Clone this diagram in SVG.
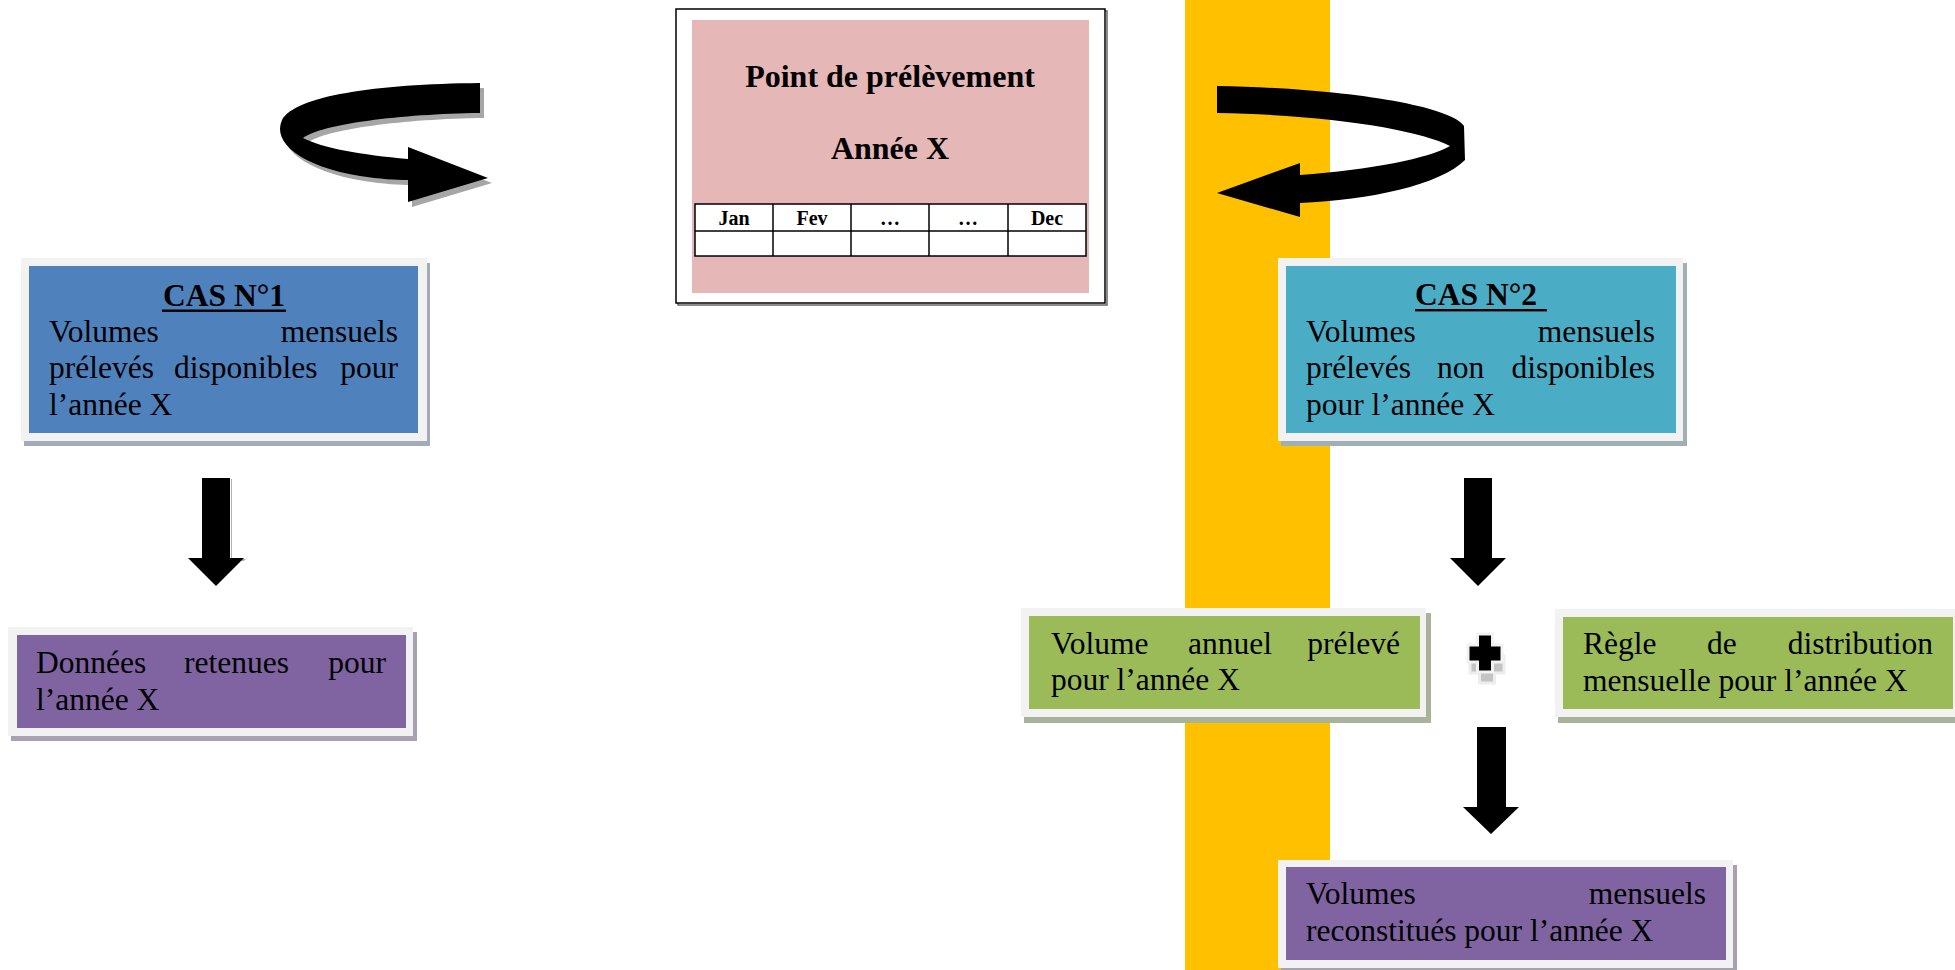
<svg xmlns="http://www.w3.org/2000/svg" width="1955" height="970" viewBox="0 0 1955 970">
<style>
.t{font-family:"Liberation Serif","Times New Roman",serif;font-size:31.5px;fill:#000}
.b{font-weight:bold}
.e{text-anchor:end}
.m{text-anchor:middle}
.h{font-size:32px}
.s{font-size:20px}
.frame{fill:#F2F2F2}
.arr{fill:#000}
.cell{fill:#fff;stroke:#000;stroke-width:1.5}
</style>
<defs>
  <path id="curveL" d="M480,83 C375,84 295,96 282,120 C272,142 300,166 360,176 C380,179 395,180 408,180 L408,202 L488,178 L408,147 L408,159 C362,155 322,148 303,138 C322,124 400,114 480,113 Z"/>
  <path id="plusShape" d="M1477.5,634 h15 v11 h9.5 v17 h-9.5 v10 h-15 v-10 h-9.5 v-17 h9.5 z"/>
</defs>
<rect width="1955" height="970" fill="#fff"/>
<rect id="band" x="1185" y="0" width="145" height="970" fill="#FFC000"/>

<g id="point">
  <rect x="678" y="11" width="429" height="294" fill="none" stroke="#666" stroke-width="1.5"/>
  <rect x="676" y="9" width="429" height="294" fill="#fff" stroke="#000" stroke-width="1.5"/>
  <rect x="692" y="20" width="397" height="273" fill="#E5B8B7"/>
  <text class="t b m h" x="890" y="87">Point de prélèvement</text>
  <text class="t b m h" x="890" y="159">Année X</text>
  <rect class="cell" x="695" y="204" width="391" height="52"/>
  <line x1="695" y1="231" x2="1086" y2="231" stroke="#000" stroke-width="1.5"/>
  <line x1="773" y1="204" x2="773" y2="256" stroke="#000" stroke-width="1.5"/>
  <line x1="851" y1="204" x2="851" y2="256" stroke="#000" stroke-width="1.5"/>
  <line x1="929" y1="204" x2="929" y2="256" stroke="#000" stroke-width="1.5"/>
  <line x1="1008" y1="204" x2="1008" y2="256" stroke="#000" stroke-width="1.5"/>
  <text class="t b m s" x="734" y="225">Jan</text>
  <text class="t b m s" x="812" y="225">Fev</text>
  <text class="t b m s" x="890" y="225">…</text>
  <text class="t b m s" x="968" y="225">…</text>
  <text class="t b m s" x="1047" y="225">Dec</text>
</g>

<g id="cas1">
  <rect x="24" y="263" width="406" height="183" fill="#A3ABB8"/>
  <rect class="frame" x="21" y="258" width="406" height="183"/>
  <rect x="29" y="266" width="389" height="167" fill="#4F81BD"/>
  <text class="t b m" x="224" y="306">CAS N°1</text>
  <rect x="162" y="309.5" width="124" height="2.4" fill="#000"/>
  <text class="t" x="49" y="342">Volumes</text>
  <text class="t e" x="398" y="342">mensuels</text>
  <text class="t" x="49" y="378">prélevés</text>
  <text class="t" x="174" y="378">disponibles</text>
  <text class="t e" x="398" y="378">pour</text>
  <text class="t" x="49" y="415">l’année X</text>
</g>

<g id="cas2">
  <rect x="1281" y="263" width="406" height="183" fill="#9FB0B4"/>
  <rect class="frame" x="1278" y="258" width="405" height="183"/>
  <rect x="1286" y="266" width="390" height="167" fill="#4BACC6"/>
  <text class="t b" x="1415" y="305">CAS N°2</text>
  <rect x="1415" y="309" width="132" height="2.4" fill="#000"/>
  <text class="t" x="1306" y="342">Volumes</text>
  <text class="t e" x="1655" y="342">mensuels</text>
  <text class="t" x="1306" y="378">prélevés</text>
  <text class="t" x="1437" y="378">non</text>
  <text class="t e" x="1655" y="378">disponibles</text>
  <text class="t" x="1306" y="415">pour l’année X</text>
</g>

<g id="donnees">
  <rect x="11" y="632" width="406" height="109" fill="#A8A2B0"/>
  <rect class="frame" x="8" y="627" width="405" height="109"/>
  <rect x="17" y="635" width="389" height="93" fill="#8064A2"/>
  <text class="t" x="36" y="673">Données</text>
  <text class="t" x="184" y="673">retenues</text>
  <text class="t e" x="386" y="673">pour</text>
  <text class="t" x="36" y="710">l’année X</text>
</g>

<g id="volume-annuel">
  <rect x="1024" y="613" width="407" height="110" fill="#A9B39A"/>
  <rect class="frame" x="1021" y="608" width="405" height="109"/>
  <rect x="1029" y="616" width="391" height="93" fill="#9BBB59"/>
  <text class="t" x="1051" y="654">Volume</text>
  <text class="t" x="1188" y="654">annuel</text>
  <text class="t e" x="1400" y="654">prélevé</text>
  <text class="t" x="1051" y="690">pour l’année X</text>
</g>

<g id="regle">
  <rect x="1558" y="614" width="407" height="109" fill="#A9B39A"/>
  <rect class="frame" x="1555" y="609" width="407" height="108"/>
  <rect x="1563" y="617" width="390" height="92" fill="#9BBB59"/>
  <text class="t" x="1583" y="654">Règle</text>
  <text class="t" x="1707" y="654">de</text>
  <text class="t e" x="1933" y="654">distribution</text>
  <text class="t" x="1583" y="691">mensuelle pour l’année X</text>
</g>

<g id="plus">
  <use href="#plusShape" transform="translate(2,11)" fill="#C4C4C4" stroke="#EDEDED" stroke-width="3"/>
  <use href="#plusShape" fill="#000" stroke="#F2F2F2" stroke-width="3"/>
</g>

<g id="reconstitues">
  <rect x="1281" y="865" width="456" height="110" fill="#A8A2B0"/>
  <rect class="frame" x="1278" y="860" width="455" height="108"/>
  <rect x="1286" y="867" width="440" height="93" fill="#8064A2"/>
  <text class="t" x="1306" y="904">Volumes</text>
  <text class="t e" x="1706" y="904">mensuels</text>
  <text class="t" x="1306" y="941">reconstitués pour l’année X</text>
</g>

<g id="connectors">
  <use href="#curveL" transform="translate(4,5)" fill="#A6A6A6"/>
  <use href="#curveL" class="arr"/>
  <path class="arr" d="M1217,86 C1340,88 1450,105 1464,126 L1465,160 C1440,185 1370,200 1300,203 L1300,217 L1217,193 L1300,163 L1300,175 C1370,170 1430,158 1450,146 C1420,130 1330,115 1217,113 Z"/>
  <path fill="#B0B0B0" d="M231,479 h1 v80 h14 l-2,2 h-13 z"/>
  <path class="arr" d="M202,478 h28 v80 h14 l-28,28 l-28,-28 h14 z"/>
  <path class="arr" d="M1464,478 h28 v80 h14 l-28,28 l-28,-28 h14 z"/>
  <path class="arr" d="M1477,727 h29 v80 h13 l-28,27 l-28,-27 h14 z"/>
</g>
</svg>
